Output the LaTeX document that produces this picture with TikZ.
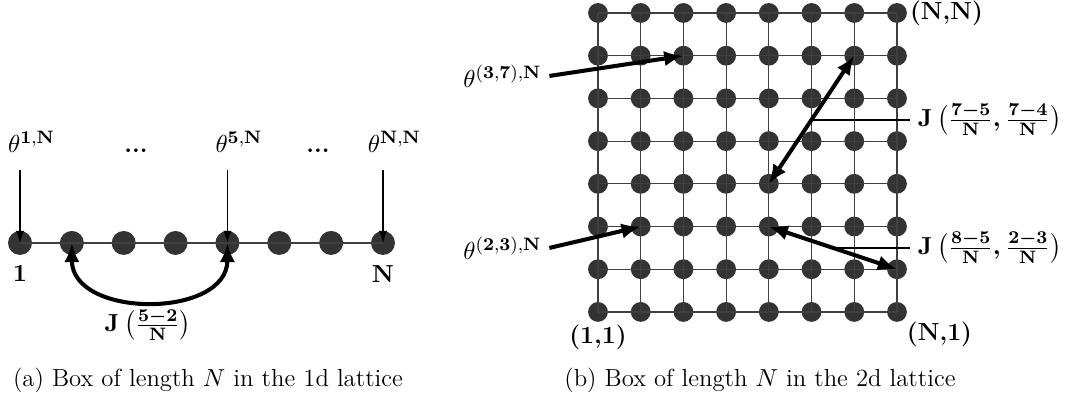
\documentclass[tikz,border=0pt]{standalone}
\usepackage{amsmath,amssymb}
\usepackage{tikz}
\usetikzlibrary{arrows.meta,positioning,calc}
\newcommand{\coup}[1]{{\boldmath$\mathbf{J}\left(#1\right)$}}
\tikzset{
  site/.style={circle,fill=black!80,inner sep=0pt,minimum size=3.75mm},
  gsite/.style={circle,fill=black!80,inner sep=0pt,minimum size=3.1mm},
  lien/.style={draw=black!75,line width=0.5pt},
  fin/.style={-{Latex[length=1.9mm,width=1.3mm]},line width=0.5pt},
  gras/.style={-{Latex[length=3mm,width=2.4mm]},line width=1.8pt},
  dbl/.style={{Latex[length=3mm,width=2.4mm]}-{Latex[length=3mm,width=2.4mm]},line width=1.8pt},
  renvoi/.style={line width=0.9pt},
  etiq/.style={inner sep=1pt},
}

\begin{document}
\begin{tikzpicture}[font=\fontsize{11}{13}\selectfont]
  \useasboundingbox (0,0) rectangle (16.97,6.24);
  % 1d lattice
  \foreach \i in {1,...,8}
    \node[site] (c\i) at ({0.313+(\i-1)*0.811},2.44) {};
  \draw[lien] (c1.center) -- (c8.center);
  \foreach \i/\t in {1/1,5/5,8/N}{
    \coordinate (h\i) at ($(c\i)+(0,1.141)$);
    \node[anchor=base] (th\i) at ($(c\i)+(0.18,1.42)$) {$\theta^{\mathbf{\t,N}}$};
    \draw[fin] (h\i) -- (c\i.center);
  }
  \node[anchor=base] (pp1) at (2.127,3.86) {\textbf{...}};
  \node[anchor=base] (pp2) at (4.974,3.86) {\textbf{...}};
  \node[below=1pt of c1] (n1) {$\mathbf{1}$};
  \node[below=1pt of c8] (nN) {$\mathbf{N}$};
  \draw[dbl] (c2.center) to[out=-90,in=-90,looseness=1.25] (c5.center);
  \node (j1) at (2.315,1.157) {\coup{\frac{\mathbf{5-2}}{\mathbf{N}}}};
  \node (capa) at (3.253,0.297) {(a) Box of length $N$ in the 1d lattice};
  % 2d lattice
  \foreach \i in {1,...,8}
    \foreach \j in {1,...,8}
      \node[gsite] (g\i-\j) at ({9.353+(\i-1)*0.668},{1.361+(\j-1)*0.668}) {};
  \foreach \k in {1,...,8}{
    \draw[lien] (g1-\k.center) -- (g8-\k.center);
    \draw[lien] (g\k-1.center) -- (g\k-8.center);
  }
  \node[etiq,right=0pt of g8-8] (nn) {\textbf{(N,N)}};
  \node[etiq,below right=0pt and 0pt of g8-1] (n1b) {\textbf{(N,1)}};
  \node[etiq,below=0pt of g1-1] (oo) {\textbf{(1,1)}};
  \node (th37) at (7.859,5.052) {$\theta^{\mathbf{(3,7),N}}$};
  \node (th23) at (7.859,2.362) {$\theta^{\mathbf{(2,3),N}}$};
  \draw[gras] (th37.east) -- (g3-7.center);
  \draw[gras] (th23.east) -- (g2-3.center);
  \draw[dbl] (g5-4.center) -- coordinate[pos=0.5] (m1) (g7-7.center);
  \draw[dbl] (g5-3.center) -- coordinate[pos=0.5] (m2) (g8-2.center);
  \coordinate (jx) at (14.23,0);
  \node[anchor=west] (j2) at (m1 -| jx) {\coup{\frac{\mathbf{7-5}}{\mathbf{N}},\frac{\mathbf{7-4}}{\mathbf{N}}}};
  \node[anchor=west] (j3) at (m2 -| jx) {\coup{\frac{\mathbf{8-5}}{\mathbf{N}},\frac{\mathbf{2-3}}{\mathbf{N}}}};
  \draw[renvoi] (j2.west) -- (m1);
  \draw[renvoi] (j3.west) -- (m2);
  \node (capb) at (11.886,0.297) {(b) Box of length $N$ in the 2d lattice};
\end{tikzpicture}
\end{document}
